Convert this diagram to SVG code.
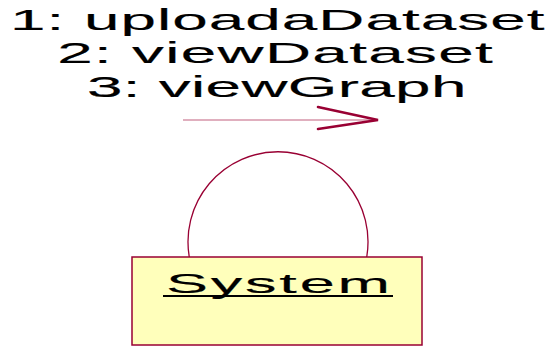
<svg xmlns="http://www.w3.org/2000/svg" width="552" height="347" viewBox="0 0 552 347">
  <style>
    .msg { font-family: "Liberation Sans", Arial, sans-serif; font-size: 29px; fill: #000; stroke: #000; stroke-width: 0.15; }
    .obj { font-family: "Liberation Sans", Arial, sans-serif; font-size: 28px; fill: #000; stroke: #000; stroke-width: 0.15; }
    .link { fill: none; stroke: #990033; stroke-width: 1.3; }
    .dir-shaft { stroke: #C2607F; stroke-width: 1.2; }
    .dir-head { fill: none; stroke: #990033; stroke-width: 2.6; stroke-linecap: round; stroke-linejoin: miter; }
    .box { fill: #FFFFBB; stroke: #990033; stroke-width: 1.5; }
  </style>

  <!-- message labels, wide lettering -->
  <g id="messages" transform="scale(2.2,1)">
    <text class="msg" x="4.5" y="30" textLength="243" lengthAdjust="spacing">1: uploadaDataset</text>
    <text class="msg" x="26" y="63" textLength="198" lengthAdjust="spacing">2: viewDataset</text>
    <text class="msg" x="39.5" y="97" textLength="172.5" lengthAdjust="spacing">3: viewGraph</text>
  </g>

  <!-- self link with its direction arrow -->
  <g id="connectors">
    <path class="link" d="M189.3,257 A90,90 0 1 1 366.7,257"/>
    <line class="dir-shaft" x1="183" y1="120" x2="376" y2="120"/>
    <polyline class="dir-head" points="318,107 378,120 318,129"/>
  </g>

  <!-- object node -->
  <g id="system">
    <rect class="box" x="132" y="257" width="290" height="88"/>
    <g transform="scale(2.25,1)">
      <text class="obj" x="73.8" y="293" textLength="99.5" lengthAdjust="spacing">System</text>
    </g>
    <line x1="163" y1="296" x2="393" y2="296" stroke="#000" stroke-width="2"/>
  </g>
</svg>
